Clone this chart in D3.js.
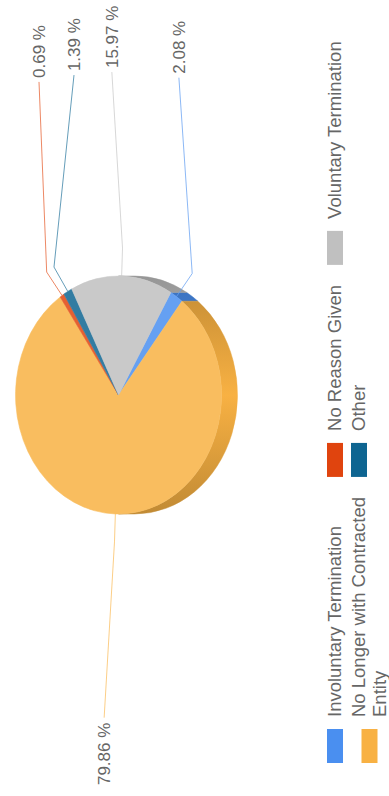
<!DOCTYPE html>
<html>
<head>
<meta charset="utf-8">
<script src="https://cdn.jsdelivr.net/npm/d3@7"></script>
<style>
  html, body { margin: 0; padding: 0; background: #fff; overflow: hidden; }
  svg { display: block; }
</style>
</head>
<body>
<svg id="chart" width="389" height="796"></svg>
<script>
// Reasons for leaving, share of total (%)
const categories = [
  "Involuntary Termination",
  "No Longer with Contracted Entity",
  "No Reason Given",
  "Other",
  "Voluntary Termination"
];
const values = [2.08, 79.86, 0.69, 1.39, 15.97];
const valueLabels = ["2.08 %", "79.86 %", "0.69 %", "1.39 %", "15.97 %"];
const colors = ["#4a8ff0", "#f8b143", "#e0440e", "#0e6591", "#c0c0c0"];

// The chart is laid out on a 796 x 389 landscape canvas and turned a quarter
// turn counter-clockwise to fit the portrait page.
const W = 796, H = 389;
const FONT = "'Liberation Sans', Arial, Helvetica, sans-serif";
const TEXT = "#666666";

const svg = d3.select("#chart");
const defs = svg.append("defs");
const g = svg.append("g").attr("transform", `translate(0,${W}) rotate(-90)`);

// 3D pie geometry: elliptical top face plus a visible rim below it
const cx = 401, cy = 118.5, rx = 119, ry = 103, depth = 16;
const deg = Math.PI / 180;
const startAngle = 120.5 * deg;

const pie = d3.pie().sort(null).startAngle(startAngle).endAngle(startAngle + 2 * Math.PI);
const slices = pie(values).map((d, i) => Object.assign(d, { i }));

const faceColor = c => d3.interpolateRgb(c, "#ffffff")(0.15);
const rimDark = c => d3.interpolateRgb(c, "#000000")(0.22);

// theta: angle measured clockwise from +x of the landscape canvas
const theta = a => a - Math.PI / 2;
const P = t => [cx + rx * Math.cos(t), cy + ry * Math.sin(t)];

// rim shading gradient per colour
colors.forEach((c, i) => {
  const gr = defs.append("linearGradient")
    .attr("id", "rim" + i)
    .attr("gradientUnits", "userSpaceOnUse")
    .attr("x1", cx - rx).attr("y1", 0).attr("x2", cx + rx).attr("y2", 0);
  gr.append("stop").attr("offset", 0).attr("stop-color", rimDark(c));
  gr.append("stop").attr("offset", 0.5).attr("stop-color", c);
  gr.append("stop").attr("offset", 1).attr("stop-color", rimDark(c));
});

// parts of a slice's outer edge that face the viewer (lower half of the ellipse)
function visibleRanges(t0, t1) {
  const out = [];
  for (const k of [-2, 0, 2]) {
    const lo = Math.max(t0, k * Math.PI), hi = Math.min(t1, (k + 1) * Math.PI);
    if (hi > lo) out.push([lo, hi]);
  }
  return out;
}
function rimPath(a, b) {
  const p0 = P(a), p1 = P(b);
  const large = (b - a) > Math.PI ? 1 : 0;
  return `M${p0[0]},${p0[1]}A${rx},${ry} 0 ${large} 1 ${p1[0]},${p1[1]}` +
         `L${p1[0]},${p1[1] + depth}A${rx},${ry} 0 ${large} 0 ${p0[0]},${p0[1] + depth}Z`;
}

const rimG = g.append("g");
slices.forEach(s => {
  visibleRanges(theta(s.startAngle), theta(s.endAngle)).forEach(([a, b]) => {
    rimG.append("path")
      .attr("d", rimPath(a, b))
      .attr("fill", `url(#rim${s.i})`)
      .attr("stroke", `url(#rim${s.i})`)
      .attr("stroke-width", 0.5);
  });
});

// top faces, drawn on a unit circle and stretched into the ellipse
const arc = d3.arc().innerRadius(0).outerRadius(1);
g.append("g")
  .attr("transform", `translate(${cx},${cy}) scale(${rx},${ry})`)
  .selectAll("path")
  .data(slices)
  .join("path")
  .attr("d", arc)
  .attr("fill", d => faceColor(colors[d.i]))
  .attr("stroke", d => faceColor(colors[d.i]))
  .attr("stroke-width", 0.6)
  .attr("vector-effect", "non-scaling-stroke");

// ---- data labels with connectors ----
const labelFont = 17;
const boxSize = 35;         // vertical room taken by one label
const labelMid = 108, labelSpread = 126, labelRadius = 323;
const breakPad = 28;

const labels = slices.map(s => {
  const t = theta((s.startAngle + s.endAngle) / 2);
  const right = Math.cos(t) > 0;
  return { s, t, right, target: labelMid + labelSpread * Math.sin(t) };
});

// spread overlapping labels apart, keeping them inside the canvas
function distribute(items, minPos, maxPos) {
  let boxes = items.slice().sort((a, b) => a.target - b.target)
    .map(d => ({ items: [d], size: boxSize, targets: [d.target] }));
  let overlapping = true;
  while (overlapping) {
    boxes.forEach(b => {
      const t = (Math.min(...b.targets) + Math.max(...b.targets)) / 2;
      b.pos = Math.max(minPos, Math.min(maxPos - b.size, t - b.size / 2));
    });
    overlapping = false;
    for (let i = boxes.length - 1; i > 0; i--) {
      if (boxes[i - 1].pos + boxes[i - 1].size > boxes[i].pos) {
        boxes[i - 1].size += boxes[i].size;
        boxes[i - 1].targets.push(...boxes[i].targets);
        boxes[i - 1].items.push(...boxes[i].items);
        boxes.splice(i, 1);
        overlapping = true;
      }
    }
  }
  boxes.forEach(b => {
    let p = b.pos;
    b.items.forEach(d => { d.pos = p + boxSize / 2; p += boxSize; });
  });
}
distribute(labels.filter(d => d.right), 21.5, 300);
distribute(labels.filter(d => !d.right), 21.5, 300);

const labelG = g.append("g");
labels.forEach(d => {
  const c = faceColor(colors[d.s.i]);
  const touch = P(d.t);
  const brk = [cx + (rx + breakPad) * Math.cos(d.t), cy + (ry + breakPad) * Math.sin(d.t)];
  const dx = Math.sqrt(Math.max(0, labelRadius * labelRadius - (d.pos - cy) * (d.pos - cy)));
  const end = [d.right ? cx + dx : cx - dx, d.pos];
  labelG.append("path")
    .attr("d", d3.line()([end, brk, touch]))
    .attr("fill", "none")
    .attr("stroke", c)
    .attr("stroke-opacity", 0.75)
    .attr("stroke-width", 1);
  labelG.append("text")
    .attr("x", end[0] + (d.right ? 4 : -5))
    .attr("y", end[1])
    .attr("dy", "0.35em")
    .attr("text-anchor", d.right ? "start" : "end")
    .attr("font-family", FONT)
    .attr("font-size", labelFont)
    .attr("fill", TEXT)
    .text(valueLabels[d.s.i]);
});

// ---- legend: items fill columns top to bottom, two rows ----
const legendFont = 18.5;
const symW = 34, symH = 16, symGap = 12, itemDistance = 20, wrapWidth = 232;
const lineH = 21, rowH = 24, legendLeft = 33, legendTop = 324.5;
const rowsPerCol = 2;

const legendG = g.append("g").attr("font-family", FONT).attr("font-size", legendFont).attr("fill", TEXT);

// build wrapped text for each item first so columns can be sized
const items = categories.map((name, i) => {
  const grp = legendG.append("g");
  const txt = grp.append("text");
  const words = name.split(" ");
  const lines = [];
  let line = [];
  const probe = legendG.append("text");
  words.forEach(w => {
    const trial = line.concat(w).join(" ");
    probe.text(trial);
    if (line.length && probe.node().getComputedTextLength() > wrapWidth) {
      lines.push(line.join(" "));
      line = [w];
    } else {
      line.push(w);
    }
  });
  lines.push(line.join(" "));
  probe.remove();
  lines.forEach(l => txt.append("tspan").text(l));
  const width = d3.max(txt.selectAll("tspan").nodes(), n => n.getComputedTextLength());
  return { i, grp, txt, lines, width };
});

const nCols = Math.ceil(items.length / rowsPerCol);
const colX = [];
let xAcc = legendLeft;
for (let c = 0; c < nCols; c++) {
  colX.push(xAcc);
  const colItems = items.slice(c * rowsPerCol, c * rowsPerCol + rowsPerCol);
  xAcc += d3.max(colItems, it => symW + symGap + it.width) + itemDistance;
}

items.forEach((it, idx) => {
  const col = Math.floor(idx / rowsPerCol), row = idx % rowsPerCol;
  const x0 = colX[col];
  const top = legendTop + row * rowH;
  const blockMid = top + (it.lines.length * lineH) / 2;
  it.grp.append("rect")
    .attr("x", x0).attr("y", blockMid - symH / 2)
    .attr("width", symW).attr("height", symH)
    .attr("fill", colors[it.i]);
  it.txt.selectAll("tspan")
    .attr("x", x0 + symW + symGap)
    .attr("y", (d, k) => top + lineH / 2 + k * lineH)
    .attr("dy", "0.35em");
});
</script>
</body>
</html>
